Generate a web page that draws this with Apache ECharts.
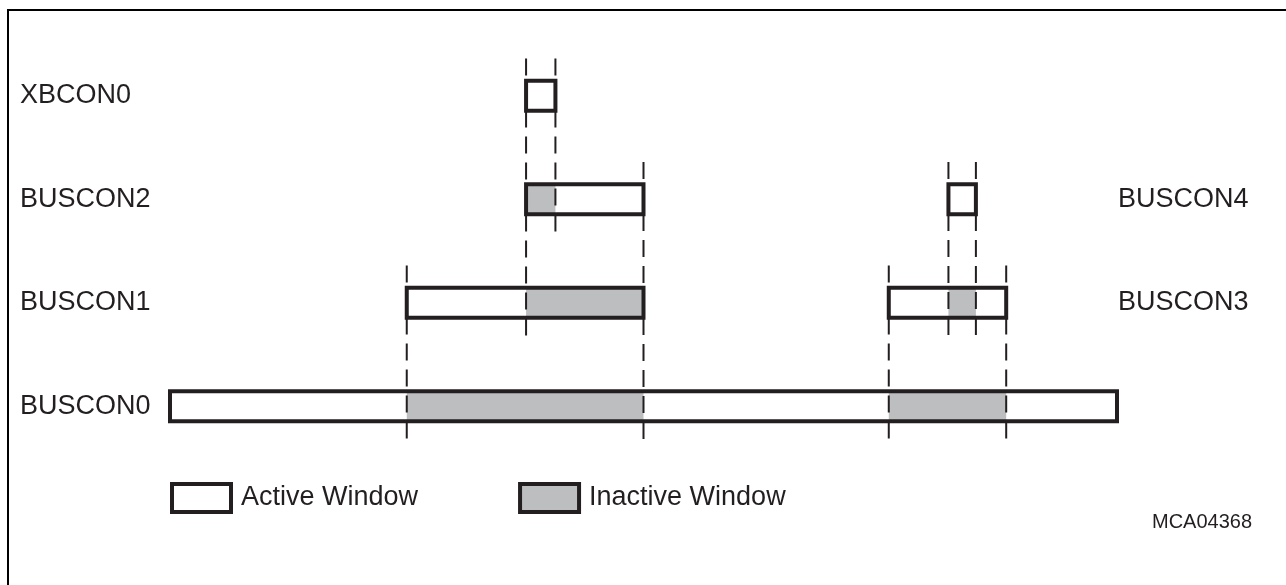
<!DOCTYPE html>
<html>
<head>
<meta charset="utf-8">
<script src="https://cdn.jsdelivr.net/npm/echarts@6/dist/echarts.min.js"></script>
<style>
  html, body { margin: 0; padding: 0; background: #fff; }
  #chart { width: 1286px; height: 585px; }
</style>
</head>
<body>
<div id="chart"></div>
<script>
// rows from bottom to top
const rowNames = ['BUSCON0', 'BUSCON1', 'BUSCON2', 'XBCON0']
const rightNames = ['', 'BUSCON3', 'BUSCON4', '']

// [row, start, end] in address units (BUSCON0 spans 0..100)
const activeWindows = [
  [0, 0, 100],
  [1, 25, 50],
  [2, 37.6, 50],
  [3, 37.6, 40.7],
  [1, 75.9, 88.3],
  [2, 82.2, 85.1]
]
const inactiveWindows = [
  [0, 25, 50],
  [0, 75.9, 88.3],
  [1, 37.6, 50],
  [2, 37.6, 40.7],
  [1, 82.2, 85.1]
]
// [address, lowest row, highest row]
const boundaries = [
  [25, 0, 1],
  [37.6, 1, 3],
  [40.7, 2, 3],
  [50, 0, 2],
  [75.9, 0, 1],
  [82.2, 1, 2],
  [85.1, 1, 2],
  [88.3, 0, 1]
]

const ink = '#231f20'
const grey = '#bcbec0'
const font = "'Liberation Sans', Arial, sans-serif"

function boxRender(fill, stroke) {
  return function (params, api) {
    const row = api.value(0)
    const p0 = api.coord([api.value(1), row])
    const p1 = api.coord([api.value(2), row])
    const h = api.size([0, 1])[1] * 0.29
    return {
      type: 'rect',
      shape: { x: p0[0], y: p0[1] - h / 2, width: p1[0] - p0[0], height: h },
      style: stroke
        ? { fill: 'none', stroke: ink, lineWidth: 4 }
        : { fill: fill }
    }
  }
}

let myChart = echarts.init(document.getElementById('chart'))

let option = {
  backgroundColor: '#fff',
  animation: false,
  textStyle: { fontFamily: font, color: ink },
  title: {
    text: 'MCA04368',
    left: 1152,
    top: 512,
    padding: 0,
    textStyle: { fontSize: 20, fontWeight: 'normal', color: ink, fontFamily: font }
  },
  legend: {
    left: 170,
    top: 482,
    padding: 0,
    itemWidth: 59,
    itemHeight: 28,
    itemGap: 100,
    selectedMode: false,
    textStyle: { fontSize: 27, color: ink, fontFamily: font, padding: [4, 0, 0, 5] },
    data: [
      { name: 'Active Window', icon: 'rect', itemStyle: { color: '#fff', borderColor: ink, borderWidth: 4 } },
      { name: 'Inactive Window', icon: 'rect', itemStyle: { color: grey, borderColor: ink, borderWidth: 4 } }
    ]
  },
  graphic: [{
    type: 'rect',
    shape: { x: 8, y: 10, width: 1400, height: 700 },
    style: { fill: 'none', stroke: '#000', lineWidth: 2 },
    silent: true
  }],
  grid: { left: 170, width: 947, top: 44, height: 414 },
  xAxis: {
    type: 'value',
    min: 0,
    max: 100,
    show: false
  },
  yAxis: [{
    type: 'category',
    data: rowNames,
    position: 'left',
    axisLine: { show: false },
    axisTick: { show: false },
    splitLine: { show: false },
    axisLabel: { align: 'left', margin: 150, fontSize: 27, color: ink, fontFamily: font, padding: [4, 0, 0, 0] }
  }, {
    type: 'category',
    data: rightNames,
    position: 'right',
    axisLine: { show: false },
    axisTick: { show: false },
    splitLine: { show: false },
    axisLabel: { align: 'left', margin: 1, fontSize: 27, color: ink, fontFamily: font, padding: [4, 0, 0, 0] }
  }],
  series: [{
    name: 'Active Window',
    type: 'custom',
    z: 1,
    encode: { x: [1, 2], y: 0 },
    renderItem: boxRender('#fff', false),
    itemStyle: { color: '#fff' },
    data: activeWindows
  }, {
    name: 'Inactive Window',
    type: 'custom',
    z: 2,
    encode: { x: [1, 2], y: 0 },
    renderItem: boxRender(grey, false),
    itemStyle: { color: grey },
    data: inactiveWindows
  }, {
    name: 'boundaries',
    type: 'custom',
    z: 3,
    encode: { x: 0, y: [1, 2] },
    renderItem: function (params, api) {
      const x = api.value(0)
      const band = api.size([0, 1])[1]
      const top = api.coord([x, api.value(2)])
      const bottom = api.coord([x, api.value(1)])
      return {
        type: 'line',
        shape: { x1: top[0], y1: top[1] - band * 0.36, x2: bottom[0], y2: bottom[1] + band * 0.36 },
        style: { stroke: ink, lineWidth: 2, lineDash: [17, 9] }
      }
    },
    data: boundaries
  }, {
    name: 'outline',
    type: 'custom',
    z: 4,
    encode: { x: [1, 2], y: 0 },
    renderItem: boxRender(null, true),
    data: activeWindows
  }]
}

myChart.setOption(option)
</script>
</body>
</html>
